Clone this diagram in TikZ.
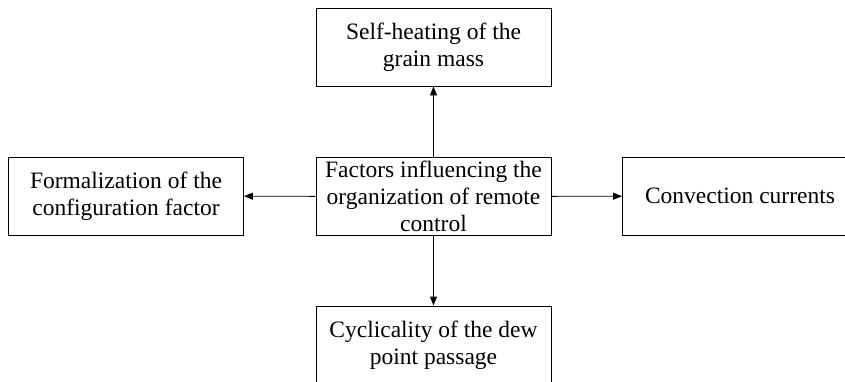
\documentclass[tikz,border=0pt]{standalone}
\usepackage{fontspec}
\setmainfont{Liberation Serif}
\usetikzlibrary{arrows.meta}
\begin{document}
\begin{tikzpicture}[x=1pt,y=1pt,
  box/.style={draw=black,line width=0.9pt,inner sep=0pt,align=center,
    minimum width=235pt,minimum height=78pt,
    font=\fontsize{23.5}{27}\selectfont},
  conn/.style={line width=0.9pt,-{Triangle[length=9pt,width=7pt]}}]
\useasboundingbox (0,0) rectangle (845,381);
\node[box] (c) at (433.5,184.5) {Factors influencing the\\organization of remote\\control};
\node[box] (t) at (433.5,334) {Self-heating of the\\grain mass};
\node[box] (l) at (126,185) {Formalization of the\\configuration factor};
\node[box] (r) at (740,185) {Convection currents};
\node[box] (b) at (433.5,36) {Cyclicality of the dew\\point passage};
\draw[conn] (c) -- (t);
\draw[conn] (c) -- (l);
\draw[conn] (c) -- (r);
\draw[conn] (c) -- (b);
\end{tikzpicture}
\end{document}
